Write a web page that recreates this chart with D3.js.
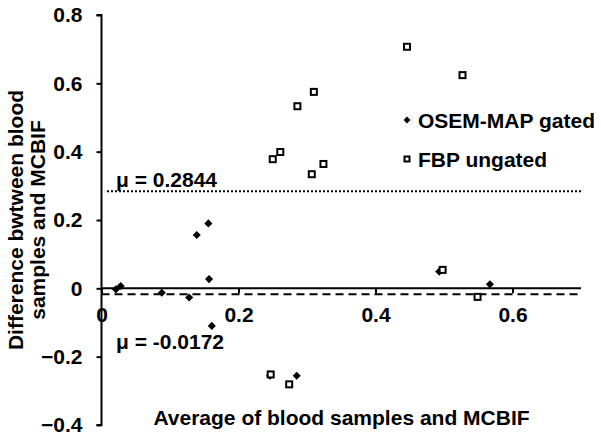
<!DOCTYPE html>
<html>
<head>
<meta charset="utf-8">
<script src="https://cdn.jsdelivr.net/npm/d3@7"></script>
<style>
  html, body { margin: 0; padding: 0; background: #fff; }
  svg { display: block; font-family: "Liberation Sans", Arial, sans-serif; font-weight: bold; }
</style>
</head>
<body>
<svg id="chart" width="601" height="444"></svg>
<script>
// ---- data ----
const osemX = [0.021, 0.028, 0.088, 0.128, 0.139, 0.156, 0.157, 0.161, 0.246, 0.285, 0.493, 0.567];
const osemY = [-0.003, 0.007, -0.013, -0.027, 0.156, 0.190, 0.027, -0.110, -0.256, -0.256, 0.049, 0.012];
const fbpX = [0.250, 0.261, 0.286, 0.310, 0.307, 0.324, 0.446, 0.527, 0.247, 0.274, 0.498, 0.549];
const fbpY = [0.378, 0.399, 0.533, 0.575, 0.334, 0.364, 0.707, 0.624, -0.252, -0.281, 0.054, -0.025];
const meanFBP = 0.2844;
const meanOSEM = -0.0172;
const xTicks = [0, 0.2, 0.4, 0.6];
const yTicks = [-0.4, -0.2, 0, 0.2, 0.4, 0.6, 0.8];
const seriesNames = ["OSEM-MAP gated", "FBP ungated"];

// ---- layout ----
const FS = 21;
const svg = d3.select("#chart");
const x = d3.scaleLinear().domain([0, 0.7]).range([101.5, 581]);
const y = d3.scaleLinear().domain([-0.4, 0.8]).range([425, 15]);

// y axis
const yAxis = d3.axisLeft(y).tickValues(yTicks).tickSize(5).tickPadding(14)
  .tickFormat(d => d === 0 ? "0" : d3.format(".1f")(d));
const gy = svg.append("g").attr("transform", `translate(${x(0)},0)`).call(yAxis);
gy.select(".domain").attr("stroke", "#000").attr("stroke-width", 2)
  .attr("d", `M-5,${y(0.8)}H0V${y(-0.4)}H-5`);
gy.selectAll(".tick line").attr("stroke", "#000").attr("stroke-width", 2);
gy.selectAll(".tick text").attr("font-size", FS).attr("font-weight", "bold")
  .attr("font-family", "Liberation Sans, Arial, sans-serif").attr("fill", "#000");

// x axis at y=0
const xAxis = d3.axisBottom(x).tickValues(xTicks).tickSize(5).tickPadding(14)
  .tickFormat(d => d === 0 ? "0" : d3.format(".1f")(d));
const gx = svg.append("g").attr("transform", `translate(0,${y(0)})`).call(xAxis);
gx.select(".domain").attr("stroke", "#000").attr("stroke-width", 2)
  .attr("d", `M${x(0)},0H${x(0.7)}`);
gx.selectAll(".tick line").attr("stroke", "#000").attr("stroke-width", 2);
gx.selectAll(".tick text").attr("font-size", FS).attr("font-weight", "bold")
  .attr("font-family", "Liberation Sans, Arial, sans-serif").attr("fill", "#000");

// mean lines
svg.append("line")
  .attr("x1", x(0.008)).attr("x2", x(0.7))
  .attr("y1", y(meanFBP)).attr("y2", y(meanFBP))
  .attr("stroke", "#000").attr("stroke-width", 2).attr("stroke-dasharray", "2,2");
svg.append("line")
  .attr("x1", x(0)).attr("x2", x(0.7))
  .attr("y1", y(meanOSEM)).attr("y2", y(meanOSEM))
  .attr("stroke", "#000").attr("stroke-width", 2).attr("stroke-dasharray", "8,5");

svg.append("text").attr("x", 116).attr("y", y(meanFBP) - 4)
  .attr("font-size", FS).text("μ = " + meanFBP.toFixed(4));
svg.append("text").attr("x", 116).attr("y", y(meanOSEM) + 55)
  .attr("font-size", FS).text("μ = " + meanOSEM.toFixed(4));

// points
const osem = osemX.map((v, i) => [v, osemY[i]]);
const fbp = fbpX.map((v, i) => [v, fbpY[i]]);
const diamond = d3.symbol().type(d3.symbolDiamond2).size(42);

svg.append("g").selectAll("path").data(osem).join("path")
  .attr("d", diamond)
  .attr("transform", d => `translate(${x(d[0])},${y(d[1])})`)
  .attr("fill", "#000");

svg.append("g").selectAll("rect").data(fbp).join("rect")
  .attr("x", d => x(d[0]) - 3).attr("y", d => y(d[1]) - 3)
  .attr("width", 6).attr("height", 6)
  .attr("fill", "#fff").attr("stroke", "#000").attr("stroke-width", 2);

// legend
const lg = svg.append("g");
lg.append("path").attr("d", d3.symbol().type(d3.symbolDiamond2).size(30))
  .attr("transform", `translate(407,120)`).attr("fill", "#000");
lg.append("rect").attr("x", 404.5).attr("y", 156.5).attr("width", 5).attr("height", 5)
  .attr("fill", "#fff").attr("stroke", "#000").attr("stroke-width", 2);
lg.append("text").attr("x", 418).attr("y", 120).attr("dy", "0.36em")
  .attr("font-size", FS).text(seriesNames[0]);
lg.append("text").attr("x", 418).attr("y", 159).attr("dy", "0.36em")
  .attr("font-size", FS).text(seriesNames[1]);

// axis titles
svg.append("text").attr("x", 341.5).attr("y", 417).attr("dy", "0.36em")
  .attr("text-anchor", "middle").attr("font-size", FS)
  .text("Average of blood samples and MCBIF");
const yt = svg.append("text").attr("text-anchor", "middle").attr("font-size", FS)
  .attr("transform", "translate(0,220) rotate(-90)");
yt.append("tspan").attr("x", 0).attr("y", 23).text("Difference bwtween blood");
yt.append("tspan").attr("x", 0).attr("y", 45).text("samples and MCBIF");
</script>
</body>
</html>
